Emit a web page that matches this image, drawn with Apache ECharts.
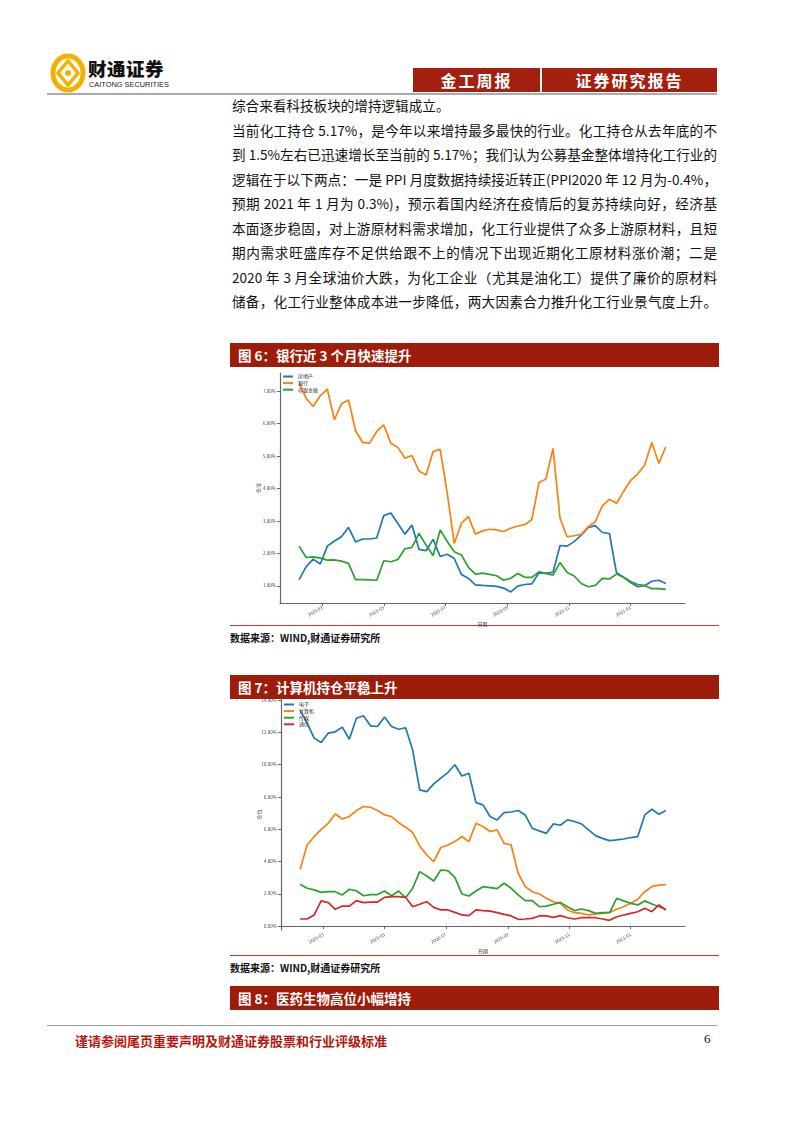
<!DOCTYPE html>
<html><head><meta charset="utf-8">
<script src="https://cdn.jsdelivr.net/npm/echarts@6/dist/echarts.min.js"></script>
<style>
html,body{margin:0;padding:0;background:#fff;}
body{width:802px;height:1133px;position:relative;overflow:hidden;font-family:"Noto Sans CJK SC",sans-serif;}
.abs{position:absolute;}
.redbox{position:absolute;background:#a3200f;color:#fff;font-weight:700;font-size:16px;text-align:center;line-height:24px;letter-spacing:2px;}
.line{position:absolute;left:232px;width:485px;font-size:13.6px;color:#111;height:20px;line-height:20px;white-space:nowrap;}
.just{text-align:justify;text-align-last:justify;}
.figbar{position:absolute;left:230px;width:489px;height:24px;background:#9e1c0a;color:#fff;font-weight:700;font-size:13.5px;line-height:24px;}
.figbar span{margin-left:8px;}
.src{position:absolute;left:230px;font-size:10px;font-weight:700;color:#111;}
.redline{position:absolute;left:230px;width:489px;height:1px;background:#c0392b;}
</style></head>
<body>
<!-- header -->
<svg class="abs" style="left:50px;top:53px" width="36" height="40" viewBox="0 0 36 40">
  <ellipse cx="18" cy="20" rx="15" ry="17" fill="none" stroke="#f2b200" stroke-width="5"/>
  <path d="M18 8 L28 20 L18 32 L8 20 Z" fill="none" stroke="#f2b200" stroke-width="3.5"/>
  <circle cx="18" cy="20" r="3" fill="#f2b200"/>
</svg>
<div class="abs" style="left:88px;top:56px;font-size:18.5px;font-weight:900;color:#111;letter-spacing:0.5px;line-height:24px;">财通证券</div>
<div class="abs" style="left:89px;top:80px;font-size:7.4px;font-family:'Liberation Sans',Arial,sans-serif;color:#222;line-height:10px;">CAITONG SECURITIES</div>
<div class="redbox" style="left:413px;top:68px;width:127px;height:24px;">金工周报</div>
<div class="redbox" style="left:542px;top:68px;width:175px;height:24px;">证券研究报告</div>
<div class="abs" style="left:47px;top:93px;width:670px;height:2px;background:#aaa;"></div>

<!-- body text -->
<div class="line" style="top:95px;width:auto;">综合来看科技板块的增持逻辑成立。</div>
<div class="line just" style="top:119.5px;">当前化工持仓 5.17%，是今年以来增持最多最快的行业。化工持仓从去年底的不</div>
<div class="line just" style="top:144px;">到 1.5%左右已迅速增长至当前的 5.17%；我们认为公募基金整体增持化工行业的</div>
<div class="line just" style="top:168.5px;">逻辑在于以下两点：一是 PPI 月度数据持续接近转正(PPI2020 年 12 月为-0.4%，</div>
<div class="line just" style="top:193px;">预期 2021 年 1 月为 0.3%)，预示着国内经济在疫情后的复苏持续向好，经济基</div>
<div class="line just" style="top:217.5px;">本面逐步稳固，对上游原材料需求增加，化工行业提供了众多上游原材料，且短</div>
<div class="line just" style="top:242px;">期内需求旺盛库存不足供给跟不上的情况下出现近期化工原材料涨价潮；二是</div>
<div class="line just" style="top:266.5px;">2020 年 3 月全球油价大跌，为化工企业（尤其是油化工）提供了廉价的原材料</div>
<div class="line just" style="top:291px;">储备，化工行业整体成本进一步降低，两大因素合力推升化工行业景气度上升。</div>

<div class="figbar" style="top:343px;"><span>图 6：银行近 3 个月快速提升</span></div>
<div class="redline" style="top:625px;"></div>
<div class="src" style="top:630px;">数据来源：WIND,财通证券研究所</div>

<div class="figbar" style="top:675px;"><span>图 7：计算机持仓平稳上升</span></div>
<div class="redline" style="top:955px;"></div>
<div class="src" style="top:960px;">数据来源：WIND,财通证券研究所</div>

<div class="figbar" style="top:986px;"><span>图 8：医药生物高位小幅增持</span></div>

<div class="abs" style="left:47px;top:1025px;width:670px;height:1px;background:#999;"></div>
<div class="abs" style="left:75px;top:1031px;font-size:13px;font-weight:700;color:#b5170f;">谨请参阅尾页重要声明及财通证券股票和行业评级标准</div>
<div class="abs" style="left:704px;top:1031px;font-size:13px;color:#111;font-family:'Liberation Serif',serif;">6</div>

<div id="chart" class="abs" style="left:0;top:0;width:802px;height:1133px;pointer-events:none;"></div>

<script>
// ---- data ----
var dates = ['2020-02-07','2020-02-14','2020-02-21','2020-02-28','2020-03-06','2020-03-13','2020-03-20','2020-03-27',
'2020-04-03','2020-04-10','2020-04-17','2020-04-24','2020-05-01','2020-05-08','2020-05-15','2020-05-22','2020-05-29',
'2020-06-05','2020-06-12','2020-06-19','2020-06-26','2020-07-03','2020-07-10','2020-07-17','2020-07-24','2020-07-31',
'2020-08-07','2020-08-14','2020-08-21','2020-08-28','2020-09-04','2020-09-11','2020-09-18','2020-09-25',
'2020-10-02','2020-10-09','2020-10-16','2020-10-23','2020-10-30','2020-11-06','2020-11-13','2020-11-20','2020-11-27',
'2020-12-04','2020-12-11','2020-12-18','2020-12-25','2021-01-01','2021-01-08','2021-01-15','2021-01-22','2021-01-29','2021-02-05'];

var realEstate = [1.19,1.59,1.82,1.67,2.22,2.38,2.51,2.80,2.35,2.44,2.44,2.47,3.16,3.24,2.92,2.59,2.87,2.12,2.08,2.43,1.90,1.97,1.84,1.35,1.23,1.03,1.01,1.00,0.98,0.93,0.81,0.99,1.04,1.06,1.40,1.38,1.42,2.24,2.22,2.36,2.56,2.80,2.85,2.64,2.61,1.40,1.26,1.10,0.97,1.00,1.14,1.17,1.07];
var bank = [7.24,6.77,6.52,6.85,7.05,6.11,6.60,6.72,5.78,5.41,5.39,5.75,5.95,5.39,5.26,4.93,5.01,4.53,4.41,5.13,5.20,3.85,2.30,2.92,3.13,2.59,2.69,2.74,2.72,2.67,2.77,2.84,2.88,3.04,4.17,4.29,5.23,3.07,2.51,2.54,2.58,2.82,2.97,3.47,3.66,3.54,3.90,4.24,4.44,4.72,5.41,4.77,5.28];
var nonBank = [2.22,1.87,1.89,1.85,1.79,1.80,1.76,1.69,1.19,1.19,1.18,1.17,1.77,1.74,1.81,2.14,2.18,2.61,2.25,1.93,2.72,2.36,2.05,1.95,1.57,1.36,1.39,1.35,1.31,1.17,1.23,1.38,1.26,1.26,1.43,1.38,1.33,1.72,1.41,1.30,1.07,0.97,1.01,1.23,1.21,1.36,1.26,1.13,1.04,1.01,0.91,0.91,0.89];

var electronics = [13.38,12.56,11.63,11.36,11.94,12.02,12.31,11.56,12.86,13.01,12.39,12.35,12.93,12.35,12.18,12.27,10.90,8.43,8.32,8.80,9.15,9.50,9.98,9.29,9.46,7.64,7.50,6.78,6.57,7.02,7.06,7.15,6.88,6.05,5.89,5.74,6.32,6.24,6.57,6.47,6.32,5.95,5.60,5.43,5.29,5.33,5.39,5.48,5.54,6.88,7.23,6.92,7.15];
var computer = [3.51,5.02,5.54,5.99,6.36,6.94,6.63,6.78,7.15,7.40,7.35,7.15,6.88,6.78,6.40,6.12,5.79,4.96,4.40,3.99,4.86,5.02,5.23,5.54,5.23,6.36,6.16,5.85,5.95,5.12,5.02,3.27,2.44,2.13,1.99,1.72,1.51,1.41,1.00,0.83,0.79,0.69,0.75,0.79,0.85,1.04,1.20,1.41,1.66,2.13,2.44,2.54,2.57];
var media = [2.59,2.34,2.24,2.09,2.13,2.13,1.93,2.28,2.19,1.88,1.95,1.95,2.17,1.88,2.17,1.76,2.34,3.37,3.10,2.79,3.47,3.43,3.02,1.99,1.86,2.17,2.44,2.38,2.32,2.65,2.34,1.93,1.58,1.58,1.20,1.24,1.35,1.47,1.20,0.96,1.06,0.96,0.79,0.83,0.83,1.72,1.56,1.41,1.31,1.56,1.37,1.20,1.04];
var telecom = [0.44,0.44,0.69,1.56,1.45,1.04,1.24,1.24,1.58,1.45,1.49,1.49,1.78,1.82,1.82,1.78,1.20,1.35,1.51,1.16,1.00,1.00,0.85,0.69,0.65,1.00,0.96,0.93,0.83,0.73,0.63,0.42,0.44,0.48,0.63,0.63,0.54,0.65,0.52,0.44,0.52,0.52,0.52,0.44,0.36,0.58,0.69,0.79,0.89,1.10,0.89,1.31,1.00];

var xTicks = ['2020-03-01','2020-05-01','2020-07-01','2020-09-01','2020-11-01','2021-01-01'];
var yTicks6 = [1,2,3,4,5,6,7];
var yTicks7 = [0,2,4,6,8,10,12,14];

var names6 = ['房地产','银行','非银金融'];
var names7 = ['电子','计算机','传媒','通信'];
var colors = ['#1f77b4','#ff7f0e','#2ca02c','#d62728'];

// ---- chart ----
var FONT = 'Noto Sans CJK SC';
function ts(d){ return Date.UTC(+d.slice(0,4), +d.slice(5,7)-1, +d.slice(8,10)); }
function pair(arr){ return arr.map(function(v,i){ return [ts(dates[i]), v]; }); }
var xTickTs = xTicks.map(ts);
function pad(n){ return n < 10 ? '0' + n : '' + n; }

function xAxis(gi){
  return {
    type:'value', gridIndex:gi,
    min: ts('2020-01-19'), max: ts('2021-02-24'),
    name:'日期', nameLocation:'middle', nameGap:19, nameMoveOverlap:false,
    nameTextStyle:{fontSize:5, color:'#333', fontFamily:FONT},
    axisLine:{lineStyle:{color:'#666', width:1.2}},
    axisTick:{show:true, length:3, lineStyle:{color:'#666'}, customValues:xTickTs},
    splitLine:{show:false},
    axisLabel:{fontSize:4.5, color:'#444', rotate:30, margin:4, customValues:xTickTs,
      formatter:function(v){ var d=new Date(v); return d.getUTCFullYear()+'-'+pad(d.getUTCMonth()+1); }}
  };
}
function yAxis(gi, min, max, ticks){
  return {
    type:'value', gridIndex:gi, min:min, max:max,
    name:'仓位', nameLocation:'middle', nameGap:19, nameMoveOverlap:false,
    nameTextStyle:{fontSize:5, color:'#333', fontFamily:FONT},
    axisLine:{show:true, lineStyle:{color:'#666', width:1.2}},
    axisTick:{show:true, length:3, lineStyle:{color:'#666'}, customValues:ticks},
    splitLine:{show:false},
    axisLabel:{fontSize:4.5, color:'#444', margin:4, customValues:ticks,
      formatter:function(v){ return v.toFixed(2) + '%'; }}
  };
}
function line(name, data, color, gi){
  return {type:'line', name:name, xAxisIndex:gi, yAxisIndex:gi, data:pair(data),
    showSymbol:false, symbol:'none', lineStyle:{color:color, width:1.7}, itemStyle:{color:color}, animation:false};
}
function legend(names, left, top){
  return {data:names, orient:'vertical', left:left, top:top, itemWidth:10, itemHeight:2, itemGap:1.6,
    icon:'rect', textStyle:{fontSize:5, lineHeight:5, color:'#333', fontFamily:FONT}, padding:0};
}

var chart = echarts.init(document.getElementById('chart'), null, {renderer:'canvas'});
chart.setOption({
  animation:false,
  textStyle:{fontFamily:FONT},
  grid:[
    {left:280, top:373, width:405, height:230},
    {left:281, top:699, width:404, height:231}
  ],
  xAxis:[xAxis(0), xAxis(1)],
  yAxis:[yAxis(0, 0.47, 7.55, yTicks6), yAxis(1, -0.24, 14.05, yTicks7)],
  legend:[legend(names6, 283, 374), legend(names7, 284, 702)],
  series:[
    line(names6[0], realEstate, colors[0], 0),
    line(names6[1], bank, colors[1], 0),
    line(names6[2], nonBank, colors[2], 0),
    line(names7[0], electronics, colors[0], 1),
    line(names7[1], computer, colors[1], 1),
    line(names7[2], media, colors[2], 1),
    line(names7[3], telecom, colors[3], 1)
  ]
});
</script>
</body></html>
